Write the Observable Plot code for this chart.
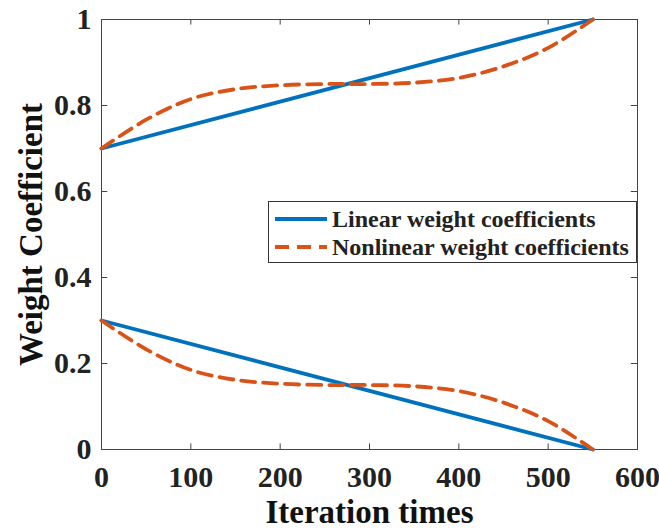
<!DOCTYPE html>
<html>
<head>
<meta charset="utf-8">
<script src="https://cdn.jsdelivr.net/npm/d3@7"></script>
<script src="https://cdn.jsdelivr.net/npm/@observablehq/plot@0.6"></script>
<style>
  html, body { margin: 0; padding: 0; background: #fff; }
  #wrap { position: relative; width: 659px; height: 531px; }
  #legend {
    position: absolute; left: 268px; top: 201px; width: 369px; height: 62px;
    box-sizing: border-box; border: 1px solid #333; background: #fff;
    font-family: "Liberation Serif", "Times New Roman", serif; font-weight: bold;
    font-size: 24px; color: #222; line-height: 28px;
  }
  .row { position: absolute; left: 6px; display: flex; align-items: center; white-space: nowrap; }
  .row svg { margin-right: 5px; }
</style>
</head>
<body>
<div id="wrap"></div>
<script>
const iterations = [0, 50, 100, 150, 200, 250, 275, 300, 350, 400, 450, 500, 550];
const nonlinearUpper = [0.70, 0.767, 0.815, 0.838, 0.847, 0.850, 0.850, 0.850, 0.853, 0.864, 0.891, 0.934, 1.0];
const nonlinearLower = [0.30, 0.233, 0.185, 0.162, 0.153, 0.150, 0.150, 0.150, 0.147, 0.136, 0.109, 0.066, 0.0];
const linearIter = [0, 550];
const linearUpper = [0.7, 1.0];
const linearLower = [0.3, 0.0];
const xTicks = [0, 100, 200, 300, 400, 500, 600];
const yTicks = [0, 0.2, 0.4, 0.6, 0.8, 1];
const seriesNames = ["Linear weight coefficients", "Nonlinear weight coefficients"];
const colors = ["#0072BD", "#D95319"];

const linUp = linearIter.map((x, i) => ({x, y: linearUpper[i]}));
const linLo = linearIter.map((x, i) => ({x, y: linearLower[i]}));
const nlUp = iterations.map((x, i) => ({x, y: nonlinearUpper[i]}));
const nlLo = iterations.map((x, i) => ({x, y: nonlinearLower[i]}));

const font = "'Liberation Serif', 'Times New Roman', serif";
const plot = Plot.plot({
  width: 659, height: 531,
  marginLeft: 101, marginRight: 22, marginTop: 19, marginBottom: 82,
  style: {fontFamily: font, fontWeight: "bold", fontSize: "30px", color: "#222", background: "#fff"},
  x: {domain: [0, 600], axis: null},
  y: {domain: [0, 1], axis: null},
  marks: [
    Plot.frame({stroke: "#444", strokeWidth: 1}),
    // inward ticks
    Plot.ruleX(xTicks.slice(1, -1), {y1: 0, y2: 0.013, stroke: "#444"}),
    Plot.ruleX(xTicks.slice(1, -1), {y1: 1, y2: 0.987, stroke: "#444"}),
    Plot.ruleY(yTicks.slice(1, -1), {x1: 0, x2: 7, stroke: "#444"}),
    Plot.ruleY(yTicks.slice(1, -1), {x1: 600, x2: 593, stroke: "#444"}),
    // tick labels
    Plot.text(xTicks, {x: d => d, frameAnchor: "bottom", lineAnchor: "top", dy: 16, text: d => String(d), fontSize: 30, fontWeight: "bold", fill: "#222"}),
    Plot.text(yTicks, {y: d => d, frameAnchor: "left", textAnchor: "end", dx: -10, text: d => String(d), fontSize: 30, fontWeight: "bold", fill: "#222"}),
    Plot.text(["Iteration times"], {frameAnchor: "bottom", dy: 73, fontSize: 33, fontWeight: "bold", fill: "#111"}),
    Plot.text(["Weight Coefficient"], {frameAnchor: "left", textAnchor: "middle", dx: -70, rotate: -90, fontSize: 33, fontWeight: "bold", fill: "#111"}),
    Plot.line(linUp, {x: "x", y: "y", stroke: colors[0], strokeWidth: 3.8}),
    Plot.line(linLo, {x: "x", y: "y", stroke: colors[0], strokeWidth: 3.8}),
    Plot.line(nlUp, {x: "x", y: "y", stroke: colors[1], strokeWidth: 3.8, strokeDasharray: "14,8", curve: "catmull-rom"}),
    Plot.line(nlLo, {x: "x", y: "y", stroke: colors[1], strokeWidth: 3.8, strokeDasharray: "14,8", curve: "catmull-rom"})
  ]
});
const wrap = document.getElementById("wrap");
wrap.appendChild(plot);

const legend = document.createElement("div");
legend.id = "legend";
seriesNames.forEach((name, i) => {
  const row = document.createElement("div");
  row.className = "row";
  row.style.top = (i === 0 ? 3 : 31) + "px";
  row.innerHTML = `<svg width="52" height="8"><line x1="0" y1="4" x2="52" y2="4" stroke="${colors[i]}" stroke-width="3.8" ${i === 1 ? 'stroke-dasharray="14,8"' : ''}/></svg><span>${name}</span>`;
  legend.appendChild(row);
});
wrap.appendChild(legend);
</script>
</body>
</html>
